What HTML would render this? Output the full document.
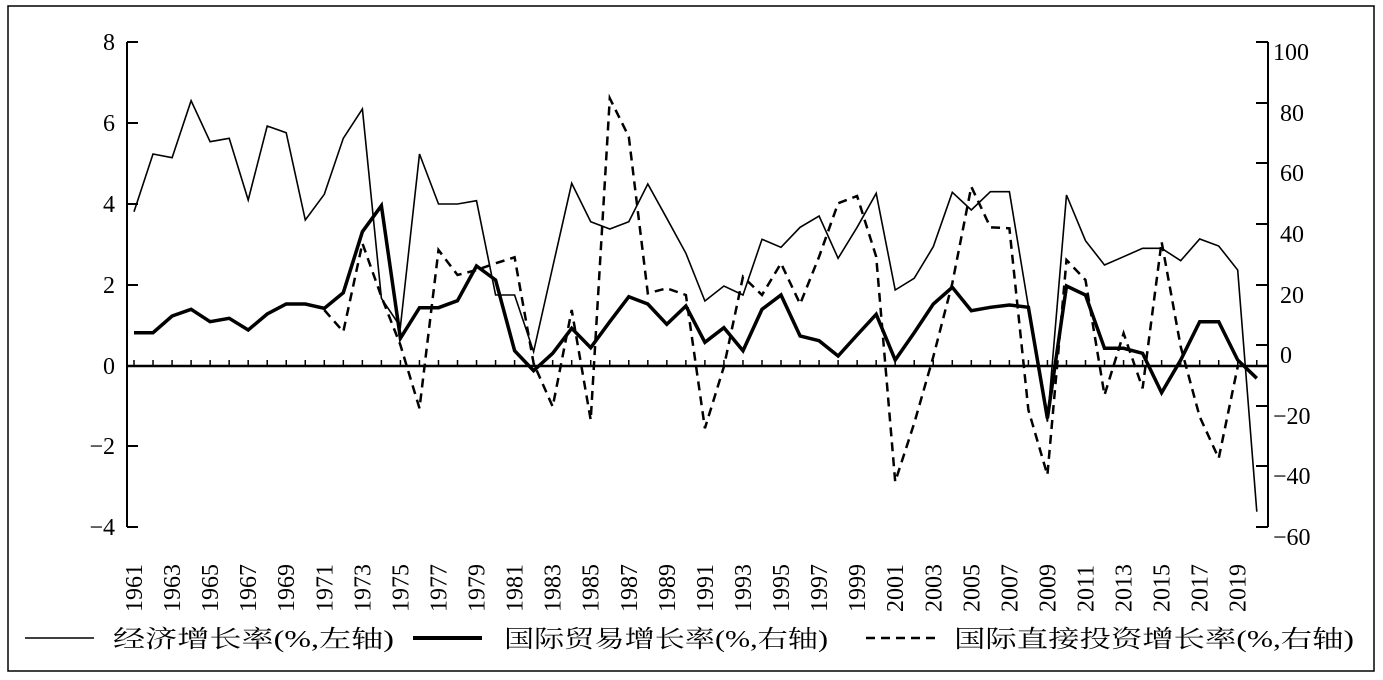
<!DOCTYPE html>
<html><head><meta charset="utf-8"><style>
html,body{margin:0;padding:0;background:#fff;}
svg{display:block;}
.t{font-family:"Liberation Serif","Noto Serif CJK SC",serif;font-size:24px;fill:#000;}
.l{font-family:"Liberation Serif","Noto Serif CJK SC",serif;font-size:24px;fill:#000;}
</style></head><body>
<svg width="1383" height="680" viewBox="0 0 1383 680" xmlns="http://www.w3.org/2000/svg">
<rect x="8" y="6" width="1366" height="665" fill="none" stroke="#000" stroke-width="1.5"/>
<g stroke="#000" stroke-width="2" fill="none">
<line x1="127" y1="42" x2="127" y2="527"/>
<line x1="127" y1="42" x2="138" y2="42"/><line x1="127" y1="123" x2="138" y2="123"/>
<line x1="127" y1="204" x2="138" y2="204"/><line x1="127" y1="285" x2="138" y2="285"/>
<line x1="127" y1="446" x2="138" y2="446"/><line x1="127" y1="527" x2="138" y2="527"/>
<line x1="1268" y1="42" x2="1268" y2="527"/>
<line x1="1256" y1="42" x2="1268" y2="42"/><line x1="1256" y1="103" x2="1268" y2="103"/>
<line x1="1256" y1="163" x2="1268" y2="163"/><line x1="1256" y1="224" x2="1268" y2="224"/>
<line x1="1256" y1="285" x2="1268" y2="285"/><line x1="1256" y1="345" x2="1268" y2="345"/>
<line x1="1256" y1="406" x2="1268" y2="406"/><line x1="1256" y1="466" x2="1268" y2="466"/>
<line x1="1256" y1="527" x2="1268" y2="527"/>
<line x1="127" y1="366" x2="1268" y2="366" stroke-width="2.5"/>
</g>
<g id="ticks" stroke="#000" stroke-width="1.5"></g>
<g class="t" text-anchor="end">
<text x="115" y="50">8</text><text x="115" y="131">6</text><text x="115" y="212">4</text>
<text x="115" y="293">2</text><text x="115" y="374">0</text><text x="115" y="454">−2</text><text x="115" y="535">−4</text>
</g>
<g class="t" text-anchor="start">
<text x="1273" y="60">100</text><text x="1280" y="121">80</text><text x="1280" y="181">60</text>
<text x="1280" y="242">40</text><text x="1280" y="303">20</text><text x="1280" y="363">0</text>
<text x="1273" y="424">−20</text><text x="1273" y="484">−40</text><text x="1273" y="545">−60</text>
</g>
<g id="yl" class="t"></g>
<polyline id="gdp" fill="none" stroke="#000" stroke-width="1.6" stroke-linejoin="miter"/>
<polyline id="tr" fill="none" stroke="#000" stroke-width="3.5" stroke-linejoin="miter"/>
<polyline id="fdi" fill="none" stroke="#000" stroke-width="2.5" stroke-dasharray="9,6"/>
<line x1="25" y1="638" x2="94" y2="638" stroke="#000" stroke-width="1.5"/>
<text class="l" x="113" y="647" textLength="281" lengthAdjust="spacingAndGlyphs">经济增长率(%,左轴)</text>
<line x1="413" y1="638" x2="482" y2="638" stroke="#000" stroke-width="4"/>
<text class="l" x="504" y="647" textLength="324" lengthAdjust="spacingAndGlyphs">国际贸易增长率(%,右轴)</text>
<line x1="866" y1="638" x2="938" y2="638" stroke="#000" stroke-width="2.5" stroke-dasharray="9,6"/>
<text class="l" x="954" y="647" textLength="400" lengthAdjust="spacingAndGlyphs">国际直接投资增长率(%,右轴)</text>
</svg>
<script>
const X=y=>134+(y-1961)*19.03;
const gdp=[211.7,154,157.7,100.7,141.7,138.3,200,126,132.7,220,194.3,138.3,109,298.3,326.7,154,204,204,200.7,295,295,351.7,267,183.3,221.7,229,221.7,184,218.3,253.3,301,286,295,239.3,247.3,227.3,216,258.3,227.3,193.3,290,278.3,246.7,192.3,210,191.7,191.7,306.7,421.7,195,240.7,265,256.7,248.3,248.3,260.7,239,246,270,511.7];
const tr=[332.7,332.7,316,309.3,321.7,318.3,330,314,304,304,308.3,292.7,231.7,205.7,338.3,307.7,307.7,300.7,266,280,350.7,370.7,353.3,328.3,347.7,321.7,296.7,304,324.3,306,342.3,327.7,350.7,309.3,295,336,340.7,356,335,314.3,360,332.7,304,287.3,310.7,307.3,305,307.3,418.3,286,295,348.3,348.3,353.3,392.7,360,321.7,321.7,360,378.3];
const fdi=[310,331.7,243.3,296.7,345,408.3,250,275,270,263.3,257.3,363.3,406.7,310,420,98.3,136.7,293.3,288.3,295,428.3,366.7,276.7,295,263.3,304,256.7,203.3,196,256.7,481.7,423.3,356.7,283.3,186.7,227.3,228.3,410,475,260,280,395,333.3,388.3,241.7,346.7,416.7,458.3,366.7];
const pts=(a,s)=>a.map((v,i)=>X(s+i).toFixed(1)+','+v).join(' ');
document.getElementById('gdp').setAttribute('points',pts(gdp,1961));
document.getElementById('tr').setAttribute('points',pts(tr,1961));
document.getElementById('fdi').setAttribute('points',pts(fdi,1971));
let t='',l='';
for(let y=1961;y<=2020;y++){t+=`<line x1="${X(y)}" y1="360" x2="${X(y)}" y2="366"/>`;
if(y%2)l+=`<text transform="translate(${X(y)+8},612) rotate(-90)">${y}</text>`;}
document.getElementById('ticks').innerHTML=t;
document.getElementById('yl').innerHTML=l;
</script>
</body></html>
